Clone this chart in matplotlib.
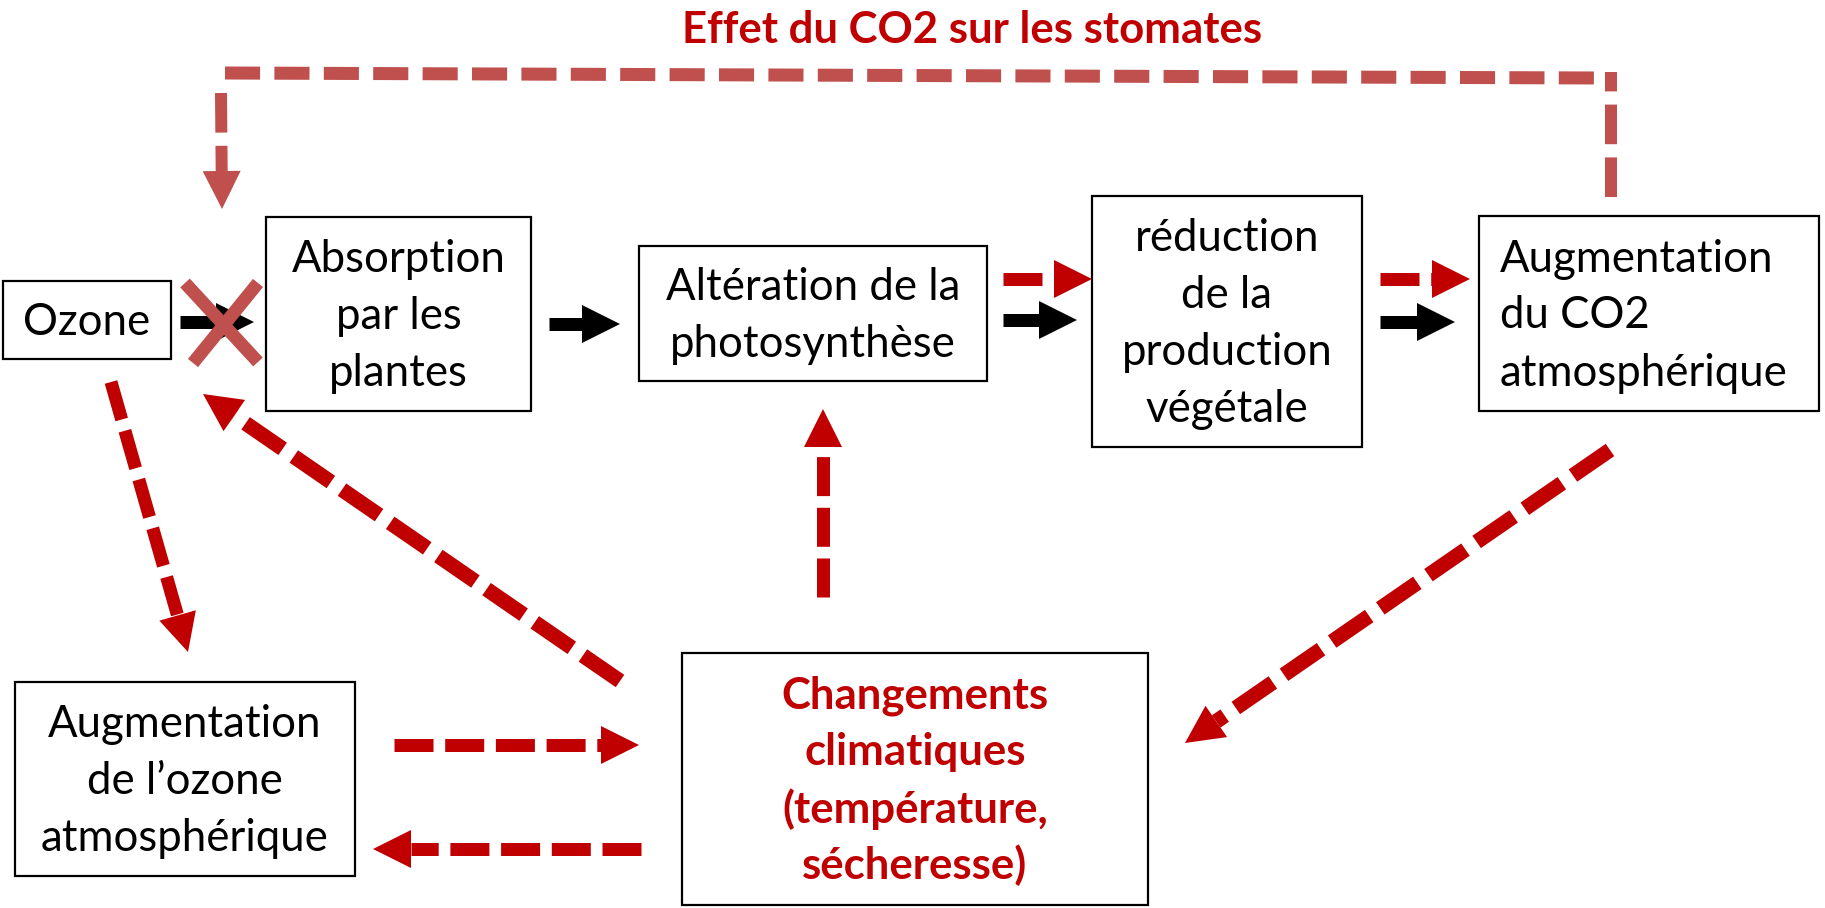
import numpy as np
import matplotlib.pyplot as plt
from matplotlib.patches import Rectangle, Polygon

# Schema : effets de l'ozone et du CO2 sur les plantes
rouge = '#C00000'
rouge_clair = '#C0504D'

titre = "Effet du CO2 sur les stomates"

# textes des boites
boites_textes = [
    ["Ozone"],
    ["Absorption", "par les", "plantes"],
    ["Altération de la", "photosynthèse"],
    ["réduction", "de la", "production", "végétale"],
    ["Augmentation", "du CO2", "atmosphérique"],
    ["Augmentation", "de l’ozone", "atmosphérique"],
    ["Changements", "climatiques", "(température,", "sécheresse)"],
]

# boites (x0, y0, x1, y1) en pixels, y vers le bas
boites_pos = [
    (3, 281, 171, 359),
    (266, 217, 531, 411),
    (639, 246, 987, 381),
    (1092, 196, 1362, 447),
    (1479, 216, 1819, 411),
    (15, 682, 355, 876),
    (682, 653, 1148, 905),
]

# fleches rouges pointillees (depart, arrivee, epaisseur)
fleches_rouges = [
    ((111, 382), (188, 652), 13),
    ((620, 681), (203, 394), 15),
    ((823, 597), (823, 409), 13),
    ((1610, 450), (1185, 743), 15),
    ((394, 745), (639, 745), 13),
    ((641, 849), (373, 849), 13),
    ((1003, 279), (1092, 279), 13),
    ((1380, 279), (1470, 279), 13),
]

# fleches noires
fleches_noires = [
    ((180, 322), (254, 322)),
    ((549, 324), (620, 324)),
    ((1003, 320), (1077, 320)),
    ((1380, 322), (1455, 322)),
]

W, H = 1825, 908
fig = plt.figure(figsize=(W / 100, H / 100), dpi=100)
ax = fig.add_axes([0, 0, 1, 1])
ax.set_xlim(0, W)
ax.set_ylim(H, 0)
ax.axis('off')

PT = 0.72  # pixels -> points
police = 'Lato'
taille = 31.5
interligne = 57


def tete(x0, y0, x1, y1, couleur, long=38, demi=19):
    d = np.array([x1 - x0, y1 - y0], dtype=float)
    d /= np.hypot(*d)
    n = np.array([-d[1], d[0]])
    pointe = np.array([x1, y1], dtype=float)
    base = pointe - d * long
    ax.add_patch(Polygon([pointe, base + n * demi, base - n * demi],
                         closed=True, facecolor=couleur, edgecolor='none', zorder=3))
    return base


def fleche(depart, arrivee, couleur, ep, pointille=True):
    base = tete(depart[0], depart[1], arrivee[0], arrivee[1], couleur)
    if pointille:
        ax.plot([depart[0], base[0]], [depart[1], base[1]], color=couleur,
                lw=ep * PT, dashes=(3, 0.9), solid_capstyle='butt',
                dash_capstyle='butt', zorder=3)
    else:
        ax.plot([depart[0], base[0] + 2], [depart[1], base[1]], color=couleur,
                lw=ep * PT, solid_capstyle='butt', zorder=3)


# boites et textes
for i, (lignes, (x0, y0, x1, y1)) in enumerate(zip(boites_textes, boites_pos)):
    ax.add_patch(Rectangle((x0, y0), x1 - x0, y1 - y0, facecolor='white',
                           edgecolor='black', lw=1.6, zorder=2))
    cy = (y0 + y1) / 2
    n = len(lignes)
    gras = i == 6
    for k, ligne in enumerate(lignes):
        yb = cy + (k - (n - 1) / 2) * interligne + 15
        if i == 4:
            ax.text(1500, yb, ligne, ha='left', va='baseline', fontsize=taille,
                    family=police, zorder=4)
        else:
            ax.text((x0 + x1) / 2, yb, ligne, ha='center', va='baseline',
                    fontsize=taille, family=police, zorder=4,
                    color=rouge if gras else 'black',
                    fontweight='bold' if gras else 'normal')

# titre
ax.text(972, 43, titre, ha='center', va='baseline', fontsize=taille,
        family=police, fontweight='bold', color=rouge)

# fleches
for dep, arr in fleches_noires:
    fleche(dep, arr, 'black', 13, pointille=False)
for dep, arr, ep in fleches_rouges:
    fleche(dep, arr, rouge, ep)

# croix sur la fleche Ozone -> Absorption
ax.plot([185, 258], [283, 362], color=rouge_clair, lw=13 * PT, solid_capstyle='butt', zorder=5)
ax.plot([258, 193], [283, 363], color=rouge_clair, lw=13 * PT, solid_capstyle='butt', zorder=5)

# boucle du haut : effet du CO2 sur les stomates
ax.plot([1611, 1611], [197, 72], color=rouge_clair, lw=12 * PT, dashes=(3.3, 1.1),
        dash_capstyle='butt', zorder=3)
ax.plot([225, 1598], [73, 78], color=rouge_clair, lw=13 * PT, dashes=(2.7, 1.1),
        dash_capstyle='butt', zorder=3)
base = tete(221, 93, 222, 209, rouge_clair)
ax.plot([221, base[0]], [93, base[1]], color=rouge_clair, lw=12 * PT, dashes=(3.3, 1.1),
        dash_capstyle='butt', zorder=3)

fig.savefig('out.png', dpi=100)
